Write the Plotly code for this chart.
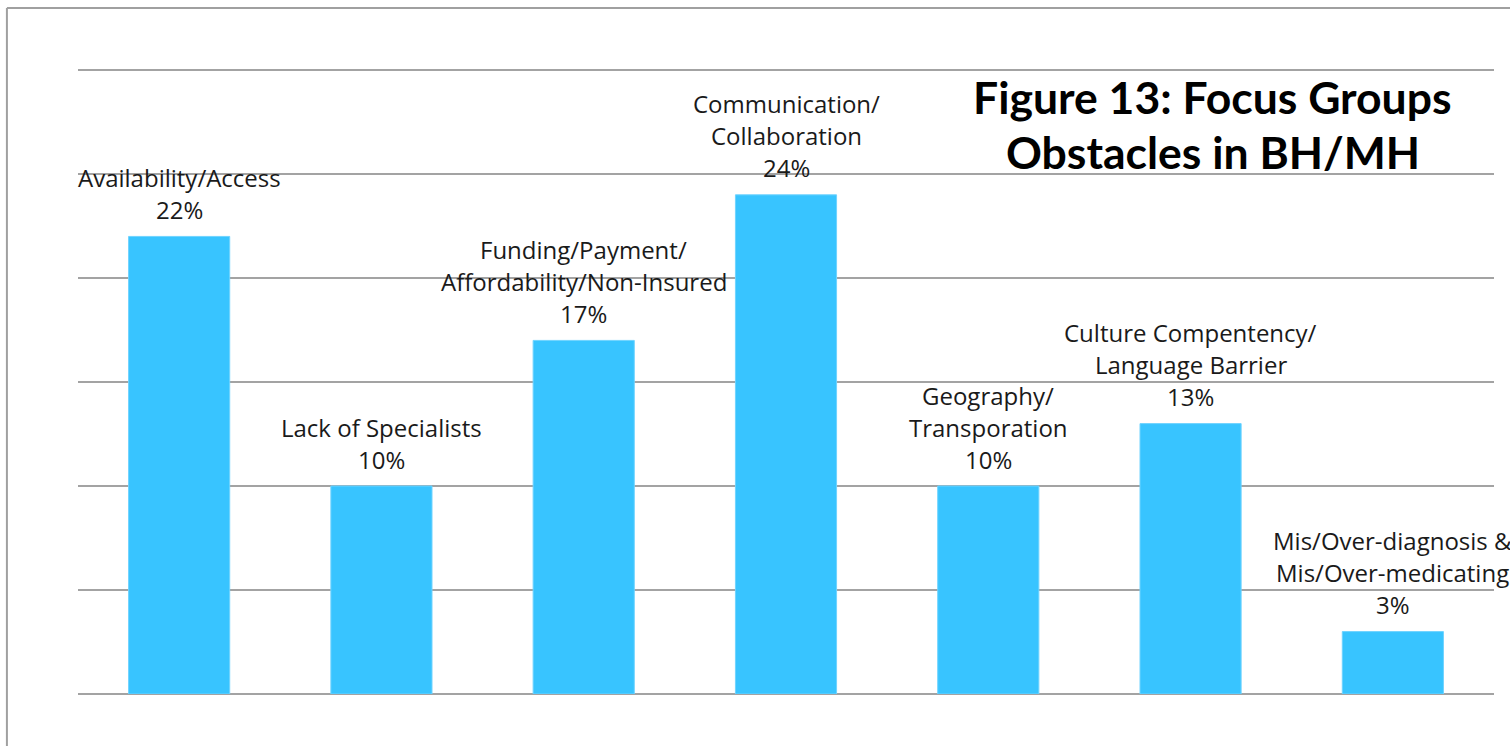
import plotly.graph_objects as go

# Focus group obstacles in behavioral / mental health (share of mentions, %)
categories = [
    "Availability/Access",
    "Lack of Specialists",
    "Funding/Payment/Affordability/Non-Insured",
    "Communication/Collaboration",
    "Geography/Transporation",
    "Culture Compentency/Language Barrier",
    "Mis/Over-diagnosis & Mis/Over-medicating",
]
label_lines = [
    ["Availability/Access"],
    ["Lack of Specialists"],
    ["Funding/Payment/", "Affordability/Non-Insured"],
    ["Communication/", "Collaboration"],
    ["Geography/", "Transporation"],
    ["Culture Compentency/", "Language Barrier"],
    ["Mis/Over-diagnosis &", "Mis/Over-medicating"],
]
values = [22, 10, 17, 24, 10, 13, 3]
title_lines = ["Figure 13: Focus Groups", "Obstacles in BH/MH"]

BAR_COLOR = "#38C4FF"
TEXT_COLOR = "#1a1a1a"
GRID_COLOR = "#a3a3a3"
LABEL_FONT = "'Open Sans', Lato, sans-serif"
TITLE_FONT = "Lato, 'Open Sans', sans-serif"

fig = go.Figure(
    go.Bar(
        x=categories,
        y=values,
        marker=dict(color=BAR_COLOR, line=dict(color="#6fd3ff", width=1)),
        hoverinfo="x+y",
    )
)

# Data labels: value on the first line above the bar, category lines stacked above it
annotations = []
for cat, val, lines in zip(categories, values, label_lines):
    stack = [f"{val}%"] + list(reversed(lines))
    for k, txt in enumerate(stack):
        annotations.append(
            dict(
                x=cat, y=val, xref="x", yref="y",
                text=txt, showarrow=False,
                xanchor="center", yanchor="middle",
                yshift=27 + 32 * k,
                font=dict(family=LABEL_FONT, size=24, color=TEXT_COLOR),
            )
        )

# Chart title, two lines in the upper right of the plot
for txt, ypos in zip(title_lines, [0.9552, 0.8688]):
    annotations.append(
        dict(
            x=0.8015, y=ypos, xref="paper", yref="paper",
            xanchor="center", yanchor="middle",
            text=f"<b>{txt}</b>", showarrow=False,
            font=dict(family=TITLE_FONT, size=44.5, color="#000000"),
        )
    )

# Outer frame (left and top edges visible)
shapes = [
    dict(type="line", xref="paper", yref="paper",
         x0=-0.0502, x1=-0.0502, y0=-0.2, y1=1.0976,
         line=dict(color="#a0a0a0", width=2)),
    dict(type="line", xref="paper", yref="paper",
         x0=-0.0502, x1=1.05, y0=1.0976, y1=1.0976,
         line=dict(color="#a0a0a0", width=2)),
]

fig.update_layout(
    width=1510, height=746,
    margin=dict(l=78, r=16, t=69, b=52, autoexpand=False),
    paper_bgcolor="white", plot_bgcolor="white",
    bargap=0.5,
    showlegend=False,
    annotations=annotations,
    shapes=shapes,
    xaxis=dict(range=[-0.5, 6.5], showticklabels=False, showgrid=False,
               zeroline=False, showline=False, ticks="", automargin=False),
    yaxis=dict(range=[0, 30.05], tick0=0, dtick=5, showticklabels=False,
               showgrid=True, gridcolor=GRID_COLOR, gridwidth=2,
               zeroline=True, zerolinecolor=GRID_COLOR, zerolinewidth=2,
               showline=False, ticks="", automargin=False),
)

fig.write_html("out.html")
